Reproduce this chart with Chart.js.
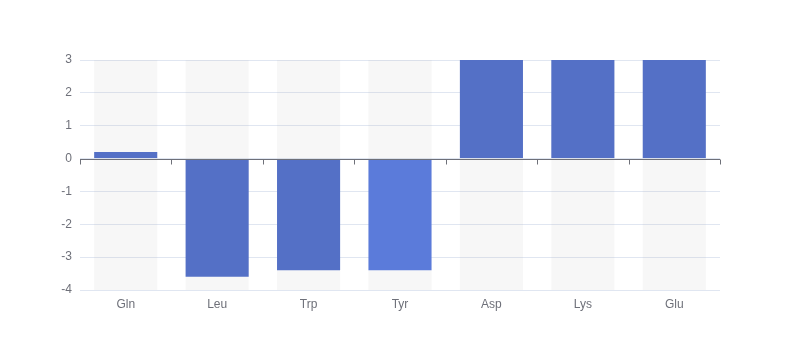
<!DOCTYPE html>
<html>
<head>
<meta charset="utf-8">
<script src="https://cdn.jsdelivr.net/npm/chart.js@4/dist/chart.umd.min.js"></script>
<style>
html,body{margin:0;padding:0;background:#fff;}
#wrap{width:800px;height:360px;}
</style>
</head>
<body>
<div id="wrap"><canvas id="c" width="800" height="360"></canvas></div>
<script>
const categories = ['Gln', 'Leu', 'Trp', 'Tyr', 'Asp', 'Lys', 'Glu'];
const values = [0.2, -3.6, -3.4, -3.4, 3, 3, 3];
const barColors = ['#5470c6', '#5470c6', '#5470c6', '#5b7bda', '#5470c6', '#5470c6', '#5470c6'];
const yMin = -4;
const yMax = 3;
const yStep = 1;

const backgroundRanges = categories.map(() => [yMin, yMax]);

const zeroAxis = {
  id: 'zeroAxis',
  afterDatasetsDraw(chart) {
    const {ctx, chartArea, scales} = chart;
    const y0 = Math.round(scales.y.getPixelForValue(0)) + 0.5;
    ctx.save();
    ctx.strokeStyle = '#6e7079';
    ctx.lineWidth = 1;
    ctx.beginPath();
    ctx.moveTo(chartArea.left, y0);
    ctx.lineTo(chartArea.right, y0);
    const n = categories.length;
    const w = (chartArea.right - chartArea.left) / n;
    for (let i = 0; i <= n; i++) {
      const x = Math.round(chartArea.left + i * w) + 0.5;
      ctx.moveTo(x, y0);
      ctx.lineTo(x, y0 + 5);
    }
    ctx.stroke();
    ctx.restore();
  }
};

new Chart(document.getElementById('c'), {
  type: 'bar',
  data: {
    labels: categories,
    datasets: [
      {
        data: values,
        backgroundColor: barColors,
        grouped: false,
        barPercentage: 0.69,
        categoryPercentage: 1,
        order: 1
      },
      {
        data: backgroundRanges,
        backgroundColor: 'rgba(180,180,180,0.1)',
        grouped: false,
        barPercentage: 0.69,
        categoryPercentage: 1,
        order: 2
      }
    ]
  },
  options: {
    responsive: false,
    animation: false,
    layout: { padding: { left: 0, right: 80, top: 60, bottom: 0 } },
    plugins: { legend: { display: false }, tooltip: { enabled: false } },
    scales: {
      x: {
        grid: { display: false, drawTicks: false },
        border: { display: false },
        ticks: { color: '#6e7079', font: { size: 12, family: 'sans-serif' }, padding: 7 },
        afterFit(s) { s.height = 70; }
      },
      y: {
        min: yMin,
        max: yMax,
        ticks: { stepSize: yStep, color: '#6e7079', font: { size: 12, family: 'sans-serif' }, padding: 8 },
        grid: { color: '#e0e6f1', drawTicks: false },
        border: { display: false },
        afterFit(s) { s.width = 80; }
      }
    }
  },
  plugins: [zeroAxis]
});
</script>
</body>
</html>
